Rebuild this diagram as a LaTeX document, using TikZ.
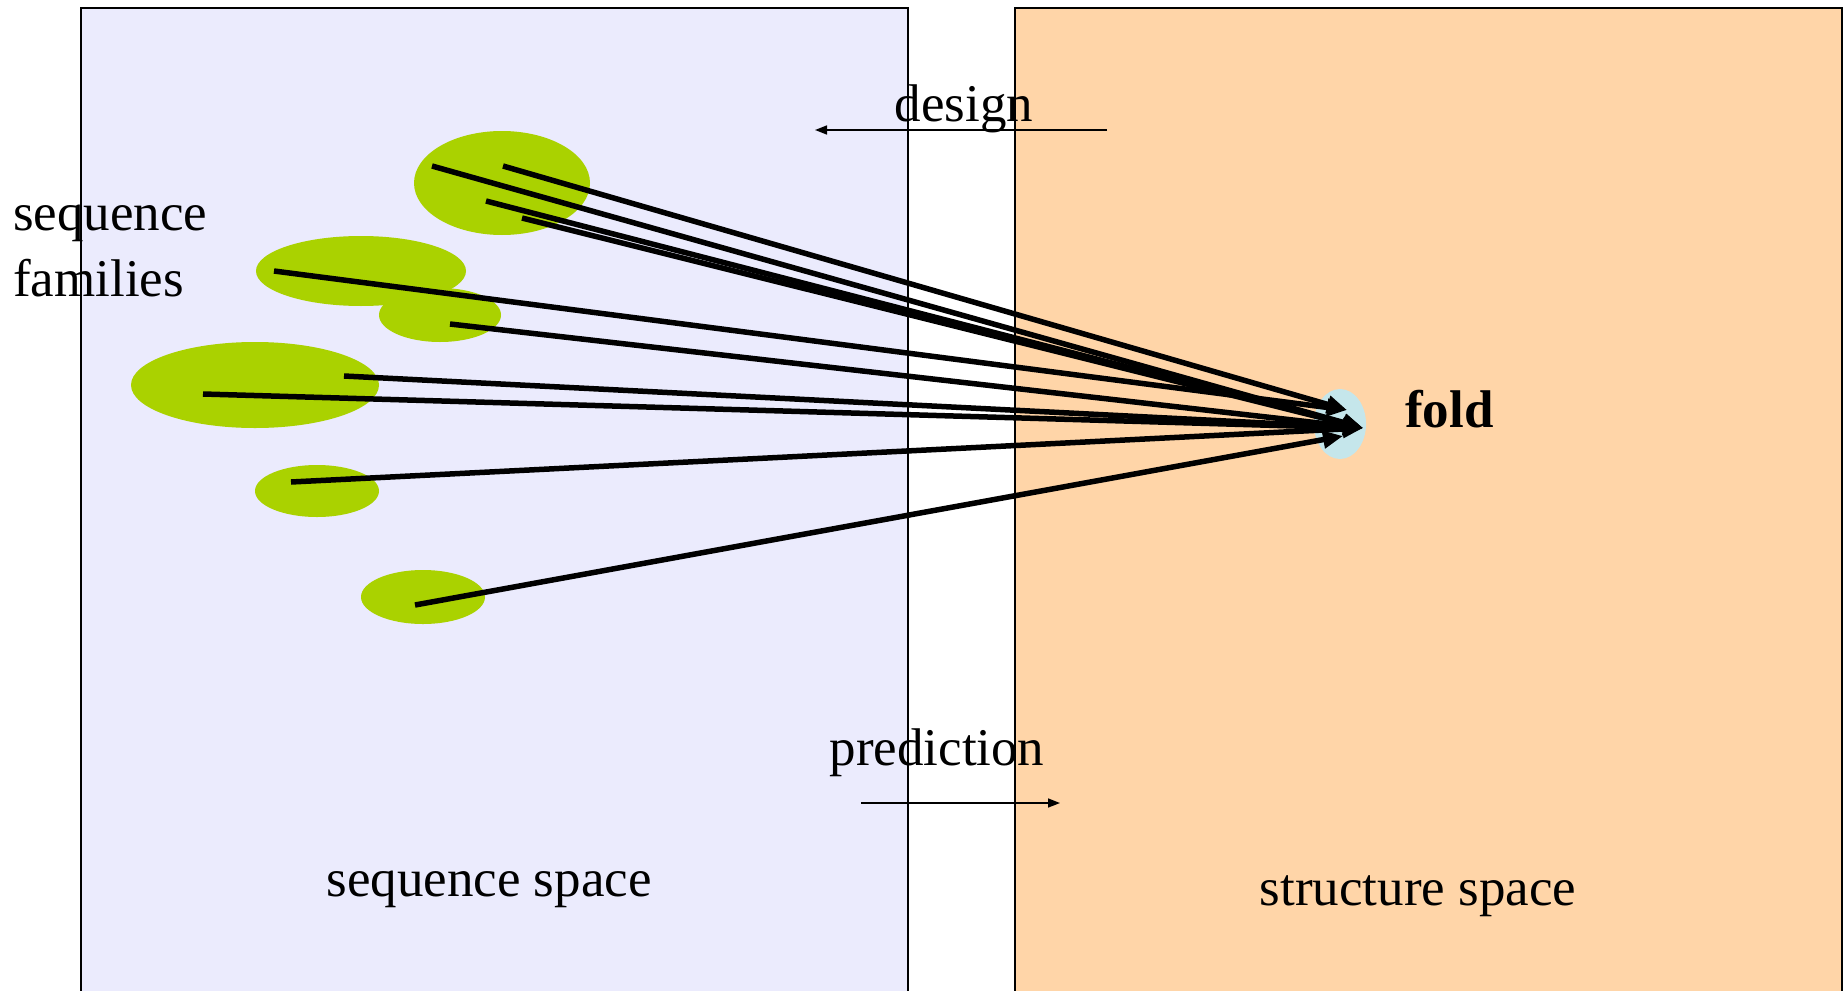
\documentclass[tikz,border=0pt]{standalone}
\usepackage{fontspec}
\setmainfont{Liberation Serif}
\usetikzlibrary{arrows.meta,shapes.geometric}
\definecolor{lav}{RGB}{235,235,253}
\definecolor{peach}{RGB}{255,213,168}
\definecolor{fam}{RGB}{170,210,0}
\definecolor{foldc}{RGB}{197,230,235}
\tikzset{
  spacebox/.style={draw=black,line width=2pt},
  famblob/.style={ellipse,fill=fam,inner sep=0pt},
  conn/.style={line width=5.5pt,-{Triangle[length=20pt,width=17pt]}},
  thinarrow/.style={line width=1.5pt,-{Triangle[length=12pt,width=9pt]}},
  lbl/.style={font=\fontsize{53}{60}\selectfont,inner sep=0pt}
}
\begin{document}
\begin{tikzpicture}[x=1pt,y=-1pt]
\useasboundingbox (0,0) rectangle (1843,990);
\clip (0,0) rectangle (1843,990);
% spaces
\node[spacebox,fill=lav,minimum width=827pt,minimum height=1000pt,anchor=north west,inner sep=0pt] (seqbox) at (80,7) {};
\node[spacebox,fill=peach,minimum width=827pt,minimum height=1000pt,anchor=north west,inner sep=0pt] (strbox) at (1014,7) {};
% families
\node[famblob,minimum width=176pt,minimum height=104pt] (f1) at (502,183) {};
\node[famblob,minimum width=210pt,minimum height=70pt] (f2) at (361,271) {};
\node[famblob,minimum width=122pt,minimum height=54pt] (f3) at (440,315) {};
\node[famblob,minimum width=248pt,minimum height=86pt] (f4) at (255,385) {};
\node[famblob,minimum width=124pt,minimum height=52pt] (f5) at (317,491) {};
\node[famblob,minimum width=124pt,minimum height=54pt] (f6) at (423,597) {};
% fold
\node[ellipse,fill=foldc,minimum width=52pt,minimum height=70pt,inner sep=0pt] (fold) at (1340,424) {};
\node[lbl,font=\fontsize{53}{60}\selectfont\bfseries,anchor=base west] (foldlbl) at (1405,427) {fold};
% start points
\coordinate (a) at (432,166);
\coordinate (b) at (503,166);
\coordinate (c) at (486,201);
\coordinate (d) at (522,218);
\coordinate (e) at (274,271);
\coordinate (f) at (450,324);
\coordinate (g) at (344,376);
\coordinate (h) at (203,394);
\coordinate (i) at (291,482);
\coordinate (j) at (415,605);
% end points
\coordinate (t1) at (1347,410);
\coordinate (t2) at (1363,428);
\coordinate (t3) at (1343,436);
\draw[conn] (b) -- (t1);
\draw[conn] (a) -- (t2);
\draw[conn] (c) -- (t2);
\draw[conn] (d) -- (t2);
\draw[conn] (e) -- (t1);
\draw[conn] (f) -- (t2);
\draw[conn] (g) -- (t2);
\draw[conn] (h) -- (t2);
\draw[conn] (i) -- (t2);
\draw[conn] (j) -- (t3);
% labels
\node[lbl,anchor=base] (design) at (964,121) {design};
\coordinate (ds) at (1107,130);
\coordinate (de) at (815,130);
\draw[thinarrow] (ds) -- (de);
\node[lbl,anchor=base] (pred) at (937,765) {prediction};
\coordinate (ps) at (861,803);
\coordinate (pe) at (1060,803);
\draw[thinarrow] (ps) -- (pe);
\node[lbl,anchor=base] (seqsp) at (489,896) {sequence space};
\node[lbl,anchor=base] (strsp) at (1418,905) {structure space};
\node[lbl,anchor=base west] (famlbl) at (13,230) {sequence};
\node[lbl,anchor=base west] (famlbl2) at (13,296) {families};
\end{tikzpicture}
\end{document}
